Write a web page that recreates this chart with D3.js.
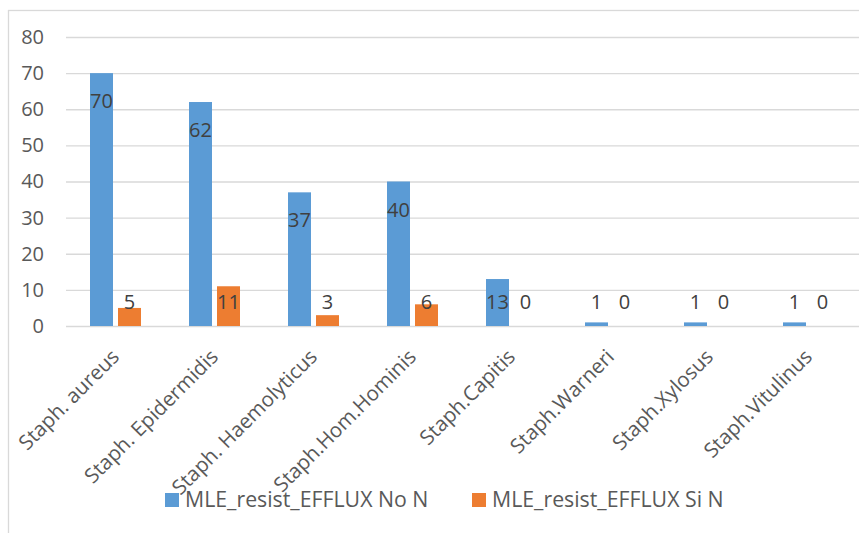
<!DOCTYPE html>
<html>
<head>
<meta charset="utf-8">
<script src="https://cdn.jsdelivr.net/npm/d3@7"></script>
<style>
  html, body { margin: 0; padding: 0; background: #fff; }
  svg { display: block; font-family: "Open Sans", "Noto Sans", sans-serif; }
</style>
</head>
<body>
<svg id="chart" width="859" height="533"></svg>
<script>
// Isolates per species, split by efflux resistance result
const categories = ["Staph. aureus", "Staph. Epidermidis", "Staph. Haemolyticus", "Staph.Hom.Hominis",
                    "Staph.Capitis", "Staph.Warneri", "Staph.Xylosus", "Staph.Vitulinus"];
const seriesNames = ["MLE_resist_EFFLUX No N", "MLE_resist_EFFLUX Si N"];
const effluxNo = [70, 62, 37, 40, 13, 1, 1, 1];
const effluxSi = [5, 11, 3, 6, 0, 0, 0, 0];
const yTicks = [0, 10, 20, 30, 40, 50, 60, 70, 80];
const colors = ["#5B9BD5", "#ED7D31"];

const svg = d3.select("#chart");
const W = 859, H = 533;
const plot = { left: 66, right: 858, top: 37, bottom: 326 };

// Chart-area frame
svg.append("rect")
  .attr("x", 8.5).attr("y", 10.5)
  .attr("width", W).attr("height", H)
  .attr("fill", "#fff").attr("stroke", "#d9d9d9").attr("stroke-width", 1.3);

const x0 = d3.scaleBand().domain(categories).range([plot.left, plot.right]).padding(0);
const x1 = d3.scaleBand().domain(seriesNames).range([0, x0.bandwidth()])
  .paddingInner(0.1786).paddingOuter(0.857);
const y = d3.scaleLinear().domain([0, 80]).range([plot.bottom, plot.top]);

// Horizontal gridlines
svg.append("g")
  .attr("transform", `translate(${plot.left},0)`)
  .call(d3.axisLeft(y).tickValues(yTicks).tickSize(-(plot.right - plot.left + 1)).tickFormat(""))
  .call(g => g.select(".domain").remove())
  .call(g => g.selectAll("line").attr("stroke", "#d9d9d9").attr("stroke-width", 1.3));

// Y tick labels
svg.append("g")
  .attr("transform", `translate(44,0)`)
  .call(d3.axisLeft(y).tickValues(yTicks).tickSize(0).tickPadding(0))
  .call(g => g.select(".domain").remove())
  .call(g => g.selectAll("text")
    .attr("fill", "#595959").attr("font-size", 20)
    .attr("font-family", "'Open Sans', sans-serif"));

const rows = categories.map((c, i) => ({ cat: c, values: [effluxNo[i], effluxSi[i]] }));

const groups = svg.append("g").selectAll("g").data(rows).join("g")
  .attr("transform", d => `translate(${x0(d.cat)},0)`);

// Bars
groups.selectAll("rect").data(d => d.values.map((v, k) => ({ v, k })))
  .join("rect")
  .attr("x", d => x1(seriesNames[d.k]))
  .attr("y", d => y(d.v))
  .attr("width", x1.bandwidth())
  .attr("height", d => y(0) - y(d.v))
  .attr("fill", d => colors[d.k]);

// Value labels, inside the bar end, kept above the baseline for short bars
groups.selectAll("text.val").data(d => d.values.map((v, k) => ({ v, k })))
  .join("text")
  .attr("class", "val")
  .attr("x", d => x1(seriesNames[d.k]) + x1.bandwidth() / 2)
  .attr("y", d => Math.min(y(d.v) + 28, y(0) - 24))
  .attr("dy", "0.35em")
  .attr("text-anchor", "middle")
  .attr("fill", "#404040")
  .attr("font-size", 20)
  .text(d => d.v);

// Category labels, rotated
svg.append("g").selectAll("text").data(categories).join("text")
  .attr("transform", d => `translate(${x0(d) + x0.bandwidth() / 2 + 5},${plot.bottom + 32}) rotate(-45)`)
  .attr("text-anchor", "end")
  .attr("fill", "#595959")
  .attr("font-size", 20.5)
  .text(d => d);

// Legend
const legendX = [165, 472];
const lg = svg.append("g").selectAll("g").data(seriesNames).join("g")
  .attr("transform", (d, i) => `translate(${legendX[i]},493)`);
lg.append("rect").attr("width", 14).attr("height", 14).attr("fill", (d, i) => colors[i]);
lg.append("text").attr("x", 20).attr("y", 7).attr("dy", "0.35em")
  .attr("fill", "#595959").attr("font-size", 21.3).text(d => d);
</script>
</body>
</html>
